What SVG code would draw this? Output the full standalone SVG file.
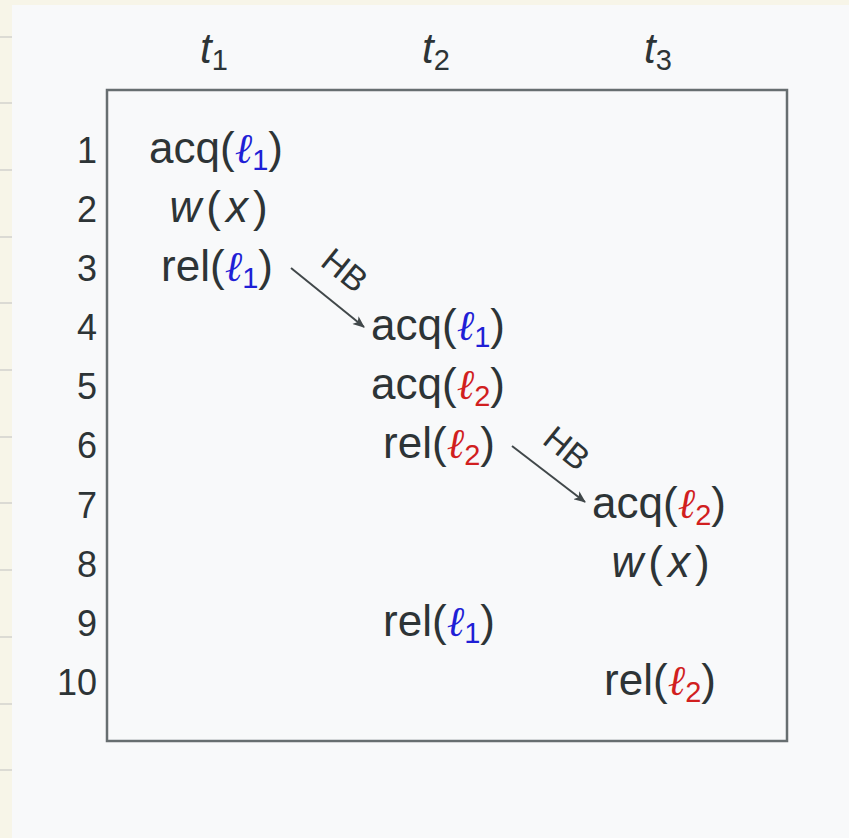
<svg xmlns="http://www.w3.org/2000/svg" width="849" height="838" viewBox="0 0 849 838">
<defs>
<style>
.t{font-family:"Liberation Sans",Arial,sans-serif;font-size:44px;fill:#2d3436;text-anchor:middle}
.n{font-family:"Liberation Sans",Arial,sans-serif;font-size:36px;fill:#2d3436;text-anchor:end}
.h{font-family:"Liberation Sans",Arial,sans-serif;font-size:42px;fill:#2d3436;text-anchor:middle}
.i{font-style:italic}
.wx{letter-spacing:5px}
.ell{font-family:"DejaVu Serif",serif;font-style:italic;font-size:42px}
.sub{font-size:29px}
.b{fill:#1f1fd6}
.r{fill:#d11f1f}
.hb{font-family:"Liberation Sans",Arial,sans-serif;font-size:34px;fill:#2d3436;text-anchor:middle}
.edge{stroke:#41484a;stroke-width:2;fill:none}
</style>
<marker id="ah" viewBox="0 0 12 10" refX="11" refY="5" markerWidth="13" markerHeight="10" markerUnits="userSpaceOnUse" orient="auto">
<path d="M0,0 L12,5 L0,10 L3,5 Z" fill="#41484a"/>
</marker>
</defs>
<rect x="0" y="0" width="849" height="838" fill="#f8f9fa"/>
<rect x="0" y="0" width="849" height="5" fill="#f7f5e8"/>
<rect x="0" y="0" width="12" height="838" fill="#f7f5e8"/>
<g stroke="#c9c9c6" stroke-width="1.2">
<line x1="0" y1="37" x2="12" y2="37"/><line x1="0" y1="103" x2="12" y2="103"/><line x1="0" y1="170" x2="12" y2="170"/><line x1="0" y1="237" x2="12" y2="237"/><line x1="0" y1="303" x2="12" y2="303"/><line x1="0" y1="370" x2="12" y2="370"/><line x1="0" y1="437" x2="12" y2="437"/><line x1="0" y1="503" x2="12" y2="503"/><line x1="0" y1="570" x2="12" y2="570"/><line x1="0" y1="637" x2="12" y2="637"/><line x1="0" y1="704" x2="12" y2="704"/><line x1="0" y1="770" x2="12" y2="770"/>
</g>
<rect id="frame" x="107" y="90" width="680" height="651" fill="none" stroke="#676e70" stroke-width="2.5"/>
<g id="headers">
<text class="h" x="214" y="63"><tspan class="i">t</tspan><tspan class="sub" dy="7">1</tspan></text>
<text class="h" x="436" y="63"><tspan class="i">t</tspan><tspan class="sub" dy="7">2</tspan></text>
<text class="h" x="658" y="63"><tspan class="i">t</tspan><tspan class="sub" dy="7">3</tspan></text>
</g>
<g id="rownums">
<text class="n" x="97" y="163">1</text>
<text class="n" x="97" y="222">2</text>
<text class="n" x="97" y="281">3</text>
<text class="n" x="97" y="340">4</text>
<text class="n" x="97" y="399">5</text>
<text class="n" x="97" y="458">6</text>
<text class="n" x="97" y="518">7</text>
<text class="n" x="97" y="577">8</text>
<text class="n" x="97" y="636">9</text>
<text class="n" x="97" y="695">10</text>
</g>
<g id="n1"><text class="t" x="216" y="163">acq(<tspan class="ell b">ℓ</tspan><tspan class="sub b" dy="7">1</tspan><tspan dy="-7">)</tspan></text></g>
<g id="n2"><text class="t wx" x="221" y="222"><tspan class="i">w</tspan>(<tspan class="i">x</tspan>)</text></g>
<g id="n3"><text class="t" x="217" y="281">rel(<tspan class="ell b">ℓ</tspan><tspan class="sub b" dy="7">1</tspan><tspan dy="-7">)</tspan></text></g>
<g id="n4"><text class="t" x="438" y="340">acq(<tspan class="ell b">ℓ</tspan><tspan class="sub b" dy="7">1</tspan><tspan dy="-7">)</tspan></text></g>
<g id="n5"><text class="t" x="438" y="399">acq(<tspan class="ell r">ℓ</tspan><tspan class="sub r" dy="7">2</tspan><tspan dy="-7">)</tspan></text></g>
<g id="n6"><text class="t" x="439" y="458">rel(<tspan class="ell r">ℓ</tspan><tspan class="sub r" dy="7">2</tspan><tspan dy="-7">)</tspan></text></g>
<g id="n7"><text class="t" x="659" y="518">acq(<tspan class="ell r">ℓ</tspan><tspan class="sub r" dy="7">2</tspan><tspan dy="-7">)</tspan></text></g>
<g id="n8"><text class="t wx" x="663" y="577"><tspan class="i">w</tspan>(<tspan class="i">x</tspan>)</text></g>
<g id="n9"><text class="t" x="439" y="636">rel(<tspan class="ell b">ℓ</tspan><tspan class="sub b" dy="7">1</tspan><tspan dy="-7">)</tspan></text></g>
<g id="n10"><text class="t" x="660" y="695">rel(<tspan class="ell r">ℓ</tspan><tspan class="sub r" dy="7">2</tspan><tspan dy="-7">)</tspan></text></g>
<g id="connectors">
<line class="edge" x1="291" y1="268" x2="364" y2="327" marker-end="url(#ah)"/>
<line class="edge" x1="512" y1="446" x2="585" y2="502" marker-end="url(#ah)"/>
<text class="hb" transform="translate(345,270) rotate(39)" y="12">HB</text>
<text class="hb" transform="translate(567,448) rotate(39)" y="12">HB</text>
</g>
</svg>
